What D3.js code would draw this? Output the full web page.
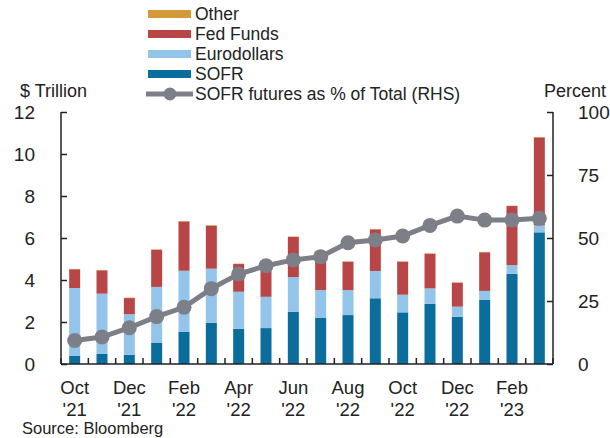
<!DOCTYPE html>
<html><head><meta charset="utf-8">
<script src="https://cdn.jsdelivr.net/npm/d3@7"></script>
<style>body{margin:0;background:#fff}svg{display:block;font-family:"Liberation Sans",Arial,sans-serif}</style>
</head><body><svg id="c" width="610" height="438"></svg>
<script>
const months = ["Oct '21","Nov '21","Dec '21","Jan '22","Feb '22","Mar '22","Apr '22","May '22","Jun '22","Jul '22","Aug '22","Sep '22","Oct '22","Nov '22","Dec '22","Jan '23","Feb '23","Mar '23"];
const sofr = [0.40,0.48,0.44,1.02,1.54,1.97,1.68,1.71,2.48,2.21,2.33,3.13,2.46,2.87,2.25,3.05,4.30,6.27];
const eurodollars = [3.22,2.87,1.93,2.65,2.90,2.57,1.76,1.49,1.66,1.31,1.19,1.30,0.84,0.73,0.48,0.43,0.41,0.33];
const fedFunds = [0.89,1.11,0.77,1.77,2.35,2.05,1.32,1.30,1.91,1.74,1.35,1.98,1.57,1.65,1.14,1.84,2.81,4.19];
const other = [0.02,0.02,0.02,0.02,0.02,0.02,0.02,0.02,0.02,0.02,0.02,0.02,0.02,0.02,0.02,0.02,0.02,0.02];
const sofrPct = [9.3,10.7,14.4,18.8,22.5,29.9,35.7,39.0,41.3,42.6,48.1,49.2,50.8,55.0,58.7,57.1,57.1,57.8];
const leftTicks = [0,2,4,6,8,10,12];
const rightTicks = [0,25,50,75,100];
const seriesNames = ["SOFR","Eurodollars","Fed Funds","Other"];
const colors = {"SOFR":"#0a6d9c","Eurodollars":"#93c4ea","Fed Funds":"#b94646","Other":"#d49a3a"};
const lineColor = "#7d7f88";

const svg = d3.select("#c");
const L=61, R=553, T=112, B=364;
const xb = d3.scaleBand().domain(months).range([L,R]);
const y = d3.scaleLinear().domain([0,12]).range([B,T]);
const y2 = d3.scaleLinear().domain([0,100]).range([B,T]);

const table = months.map((m,i)=>({month:m,"SOFR":sofr[i],"Eurodollars":eurodollars[i],"Fed Funds":fedFunds[i],"Other":other[i]}));
const stacked = d3.stack().keys(seriesNames)(table);

svg.append("g").selectAll("g").data(stacked).join("g")
  .attr("fill",d=>colors[d.key])
  .selectAll("rect").data(d=>d).join("rect")
  .attr("x",d=>xb(d.data.month)+xb.bandwidth()/2-5.5)
  .attr("width",11)
  .attr("y",d=>y(d[1]))
  .attr("height",d=>y(d[0])-y(d[1]));

// axes
const axisCol="#222";
const gl = svg.append("g").attr("transform",`translate(${L},0)`)
  .call(d3.axisLeft(y).tickValues(leftTicks).tickSize(-6).tickPadding(26).tickFormat(d3.format("d")));
const gr = svg.append("g").attr("transform",`translate(${R},0)`)
  .call(d3.axisRight(y2).tickValues(rightTicks).tickSize(-6).tickPadding(25));
const gb = svg.append("g").attr("transform",`translate(0,${B})`)
  .call(d3.axisBottom(xb).tickValues([]).tickSize(0));
gb.selectAll("line.bt").data(months).join("line").attr("class","bt")
  .attr("x1",d=>xb(d)).attr("x2",d=>xb(d)).attr("y1",0).attr("y2",-6).attr("stroke",axisCol).attr("stroke-width",1.5);
gb.append("line").attr("x1",R).attr("x2",R).attr("y1",0).attr("y2",-6).attr("stroke",axisCol).attr("stroke-width",1.5);
[gl,gr,gb].forEach(g=>{
  g.select(".domain").attr("stroke",axisCol).attr("stroke-width",1.5);
  g.selectAll(".tick line").attr("stroke",axisCol).attr("stroke-width",1.5);
  g.selectAll("text").attr("font-size",19).attr("fill","#222").attr("font-family","Liberation Sans, Arial, sans-serif");
});
gl.select(".domain").attr("d",`M0,${T}V${B}`);
gr.select(".domain").attr("d",`M0,${T}V${B}`);
gb.select(".domain").attr("d",`M${L},0H${R}`);

// x labels
const xl = svg.append("g").attr("font-size",18.5).attr("fill","#222").attr("text-anchor","middle");
months.forEach((m,i)=>{
  if(i%2) return;
  const [mon,yr]=m.split(" ");
  const cx = xb(m)+xb.bandwidth()/2;
  xl.append("text").attr("x",cx).attr("y",394).text(mon);
  xl.append("text").attr("x",cx).attr("y",416).text(yr);
});

// line
const line = d3.line().x((d,i)=>xb(months[i])+xb.bandwidth()/2).y(d=>y2(d));
svg.append("path").datum(sofrPct).attr("d",line).attr("fill","none").attr("stroke",lineColor).attr("stroke-width",5);
svg.append("g").selectAll("circle").data(sofrPct).join("circle")
  .attr("cx",(d,i)=>xb(months[i])+xb.bandwidth()/2).attr("cy",d=>y2(d)).attr("r",7.5).attr("fill",lineColor);

// titles
svg.append("text").attr("x",20).attr("y",97).attr("font-size",18).attr("fill","#222").text("$ Trillion");
svg.append("text").attr("x",606).attr("y",97).attr("font-size",18).attr("fill","#222").attr("text-anchor","end").text("Percent");
svg.append("text").attr("x",22).attr("y",434).attr("font-size",16.5).attr("fill","#222").text("Source: Bloomberg");

// legend
const legendItems = [["Other",14],["Fed Funds",34],["Eurodollars",54],["SOFR",74]];
const lg = svg.append("g");
legendItems.forEach(([k,cy])=>{
  lg.append("rect").attr("x",148).attr("y",cy-4).attr("width",43).attr("height",8).attr("fill",colors[k]);
  lg.append("text").attr("x",195).attr("y",cy+6).attr("font-size",17.5).attr("fill","#222").text(k);
});
lg.append("line").attr("x1",146).attr("x2",193).attr("y1",94).attr("y2",94).attr("stroke",lineColor).attr("stroke-width",5);
lg.append("circle").attr("cx",170).attr("cy",94).attr("r",6.5).attr("fill",lineColor);
lg.append("text").attr("x",195).attr("y",100).attr("font-size",17.5).attr("fill","#222").text("SOFR futures as % of Total (RHS)");
</script></body></html>
